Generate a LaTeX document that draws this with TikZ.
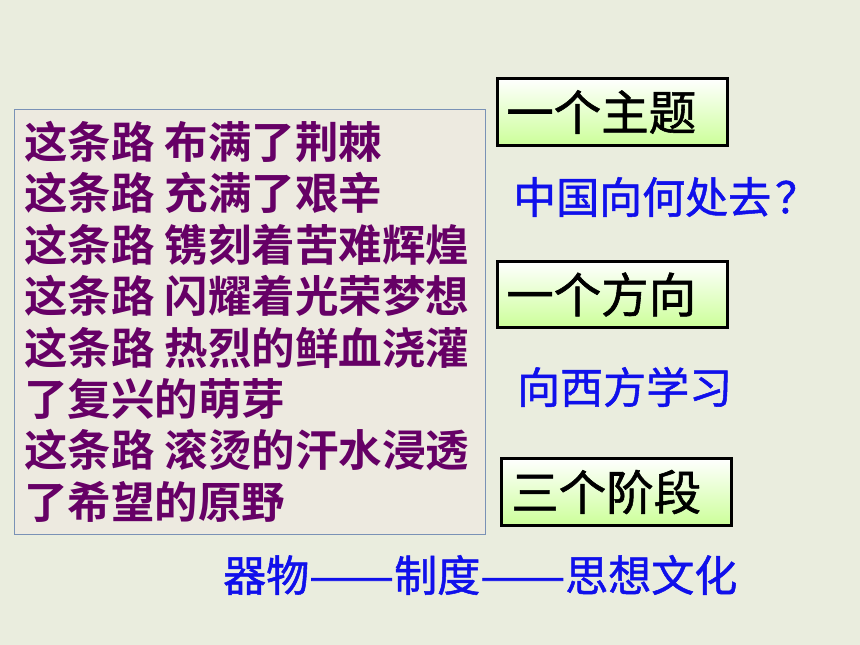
\documentclass[tikz,border=0pt]{standalone}
\usepackage{fontspec}
\usepackage{graphicx}
\newfontfamily\cjkb{Noto Sans CJK SC Bold}
\newfontfamily\cjkr{Noto Sans CJK SC}
\newfontfamily\cjkm[FakeBold=1.2]{Noto Sans CJK SC}
\definecolor{bgc}{RGB}{234,237,222}
\definecolor{lboxfill}{RGB}{237,234,224}
\definecolor{lboxline}{RGB}{122,146,182}
\definecolor{purp}{RGB}{102,0,102}
\definecolor{blu}{RGB}{16,16,235}
\definecolor{lgreen}{RGB}{204,255,153}
\tikzset{
  poem/.style={anchor=west, inner sep=0pt, text=purp, font=\cjkb\fontsize{43.5}{43.5}\selectfont},
  rbox/.style={draw=black, line width=3pt, top color=white, bottom color=lgreen, minimum width=230pt, inner sep=0pt},
  boxtxt/.style={anchor=west, inner sep=0pt, text=black, font=\cjkm\fontsize{47.5}{47.5}\selectfont},
  bluetxt/.style={anchor=west, inner sep=0pt, text=blu, font=\cjkm\fontsize{43}{43}\selectfont},
}
\newcommand{\longdash}{\scalebox{1.18}[1]{——}}
\begin{document}
\begin{tikzpicture}[x=1pt,y=-1pt]
\fill[bgc] (0,0) rectangle (860,645);
\useasboundingbox (0,0) rectangle (860,645);
% left poem box
\draw[fill=lboxfill, draw=lboxline, line width=1pt] (14.5,109.5) rectangle (485.5,534.5);
\node[poem] (l1) at (24,141.5) {这条路 布满了荆棘};
\node[poem] (l2) at (24,193) {这条路 充满了艰辛};
\node[poem] (l3) at (24,244.5) {这条路 镌刻着苦难辉煌};
\node[poem] (l4) at (24,296) {这条路 闪耀着光荣梦想};
\node[poem] (l5) at (24,347.5) {这条路 热烈的鲜血浇灌};
\node[poem] (l6) at (24,399) {了复兴的萌芽};
\node[poem] (l7) at (24,450.5) {这条路 滚烫的汗水浸透};
\node[poem] (l8) at (24,502) {了希望的原野};
% right boxes
\node[rbox, minimum height=67pt] (b1) at (612.5,112) {};
\node[boxtxt] (t1) at (506,112) {一个主题};
\node[rbox, minimum height=66pt] (b2) at (612.5,294.5) {};
\node[boxtxt] (t2) at (506,294.5) {一个方向};
\node[rbox, minimum height=67pt] (b3) at (616.5,492) {};
\node[boxtxt] (t3) at (511,492) {三个阶段};
% blue texts
\node[bluetxt] (q1) at (513,197) {中国向何处去\hspace{4pt}？};
\node[bluetxt] (q2) at (517,387) {向西方学习};
\node[bluetxt] (q3) at (223,575) {器物\longdash 制度\longdash 思想文化};
\end{tikzpicture}
\end{document}
